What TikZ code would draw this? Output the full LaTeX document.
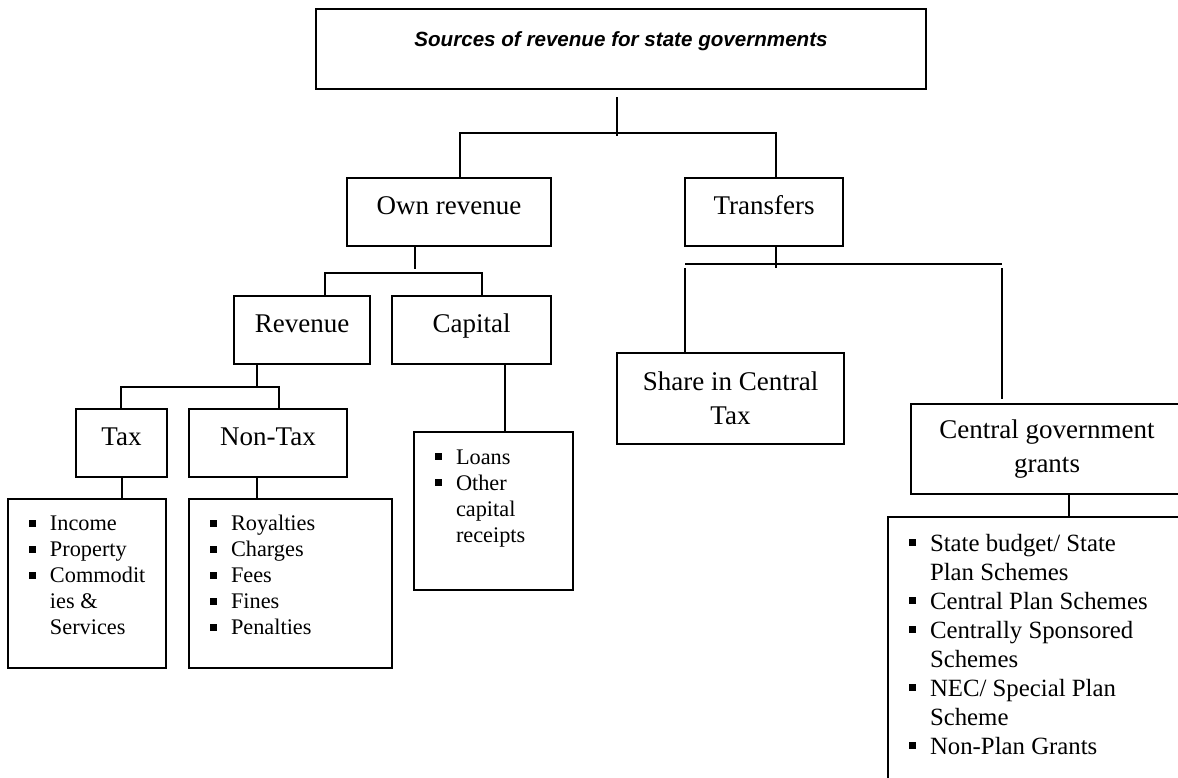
\documentclass[tikz,border=0pt]{standalone}
\usepackage{fontspec}
\setmainfont{Liberation Serif}
\newfontfamily\titlefont{Liberation Sans}
\usetikzlibrary{positioning, calc}

\newcommand{\lstfont}{\fontsize{22.3}{26}\selectfont}
\newcommand{\grfont}{\fontsize{24.8}{29}\selectfont}
\newcommand{\sqb}{\rule[\dimexpr0.33em-3.5pt\relax]{7pt}{7pt}}
\newcommand{\itm}{\par\noindent\llap{\sqb\hspace{14pt}}}
\newcommand{\listbody}[3]{\parbox[c][#1][t]{#2}{\raggedright\leftskip=42pt\relax #3}}

\tikzset{
  topBox/.style = {rectangle, draw, line width=1.6pt, inner sep=0pt, outer sep=0pt,
    minimum width=610pt, minimum height=80pt,
    font=\titlefont\bfseries\itshape\fontsize{20.6}{24}\selectfont,
    text height=15pt, text depth=20pt},
  levelBox/.style = {rectangle, draw, line width=1.6pt, inner sep=0pt, outer sep=0pt,
    minimum height=68pt, font=\fontsize{27}{34}\selectfont,
    text height=18pt, text depth=14pt},
  twoLine/.style = {rectangle, draw, line width=1.6pt, inner sep=0pt, outer sep=0pt,
    align=center, font=\fontsize{27}{34}\selectfont},
  listBox/.style = {rectangle, draw, line width=1.6pt, inner sep=0pt, outer sep=0pt,
    anchor=north west},
  link/.style = {line width=1.6pt},
}

\begin{document}
\begin{tikzpicture}[x=1pt, y=-1pt]
\useasboundingbox (0,0) rectangle (1178,777);
\clip (0,0) rectangle (1178,777);

% boxes
\node[topBox] (title) at (621,49) {Sources of revenue for state governments};
\node[levelBox, minimum width=204pt] (own) at (449,212) {Own revenue};
\node[levelBox, minimum width=158pt, right=134pt of own] (trans) {Transfers};
\node[levelBox, minimum width=136pt] (rev) at (302,330) {Revenue};
\node[levelBox, minimum width=159pt, right=22pt of rev] (cap) {Capital};
\node[levelBox, minimum width=91pt] (tax) at (121.5,443) {Tax};
\node[levelBox, minimum width=158pt, right=22pt of tax] (ntax) {Non-Tax};
\node[twoLine, minimum width=227pt, minimum height=91pt] (share) at (730.5,398.5) {Share in Central\\Tax};
\node[twoLine, minimum width=272pt, minimum height=90pt] (grants) at (1047,449) {Central government\\grants};

% lists
\node[listBox, font=\lstfont] (taxList) at (8,499) {\listbody{169pt}{158pt}{%
  \itm\rule{0pt}{31.5pt}Income
  \itm Property
  \itm Commodit\newline ies \&\newline Services}};
\node[listBox, font=\lstfont] (ntaxList) at (189,499) {\listbody{169pt}{203pt}{%
  \itm\rule{0pt}{31.5pt}Royalties
  \itm Charges
  \itm Fees
  \itm Fines
  \itm Penalties}};
\node[listBox, font=\lstfont] (capList) at (414,432) {\listbody{158pt}{159pt}{%
  \itm\rule{0pt}{32.3pt}Loans
  \itm Other\newline capital\newline receipts}};
\node[listBox, font=\grfont] (grList) at (888,517) {\listbody{290pt}{305pt}{%
  \itm\rule{0pt}{34pt}State budget/ State\newline Plan Schemes
  \itm Central Plan Schemes
  \itm Centrally Sponsored\newline Schemes
  \itm NEC/ Special Plan\newline Scheme
  \itm Non-Plan Grants}};

% joints
\coordinate (j0) at (617,133);
\coordinate (b1) at (460,133);
\coordinate (b2) at (776,133);
\coordinate (s1) at (415,269);
\coordinate (b3) at (325,273);
\coordinate (b4) at (482,273);
\coordinate (j5) at (257,387);
\coordinate (b5) at (121,387);
\coordinate (b6) at (279,387);
\coordinate (t1) at (122,0);
\coordinate (c1) at (505,0);
\coordinate (b7) at (685,264);
\coordinate (b8) at (1002,264);
\coordinate (g1) at (1069,0);

% connectors
\draw[link] ($(title.south -| j0)+(0,8)$) -- ($(j0)+(0,3)$);
\draw[link] (own.north -| b1) -- (b1) -- (b2) -- (trans.north -| b2);
\draw[link] (own.south -| s1) -- (s1);
\draw[link] (rev.north -| b3) -- (b3) -- (b4) -- (cap.north -| b4);
\draw[link] (rev.south -| j5) -- (j5);
\draw[link] (tax.north -| b5) -- (b5) -- (b6) -- (ntax.north -| b6);
\draw[link] (cap.south -| c1) -- (capList.north -| c1);
\draw[link] (tax.south -| t1) -- (taxList.north -| t1);
\draw[link] (ntax.south -| j5) -- (ntaxList.north -| j5);
\draw[link] (trans.south -| b2) -- ($(trans.south -| b2)+(0,22)$);
\draw[link] (b7) -- (b8);
\draw[link] ($(b7)+(0,4)$) -- (share.north -| b7);
\draw[link] ($(b8)+(0,4)$) -- ($(grants.north -| b8)+(0,-5)$);
\draw[link] (grants.south -| g1) -- (grList.north -| g1);

\end{tikzpicture}
\end{document}
